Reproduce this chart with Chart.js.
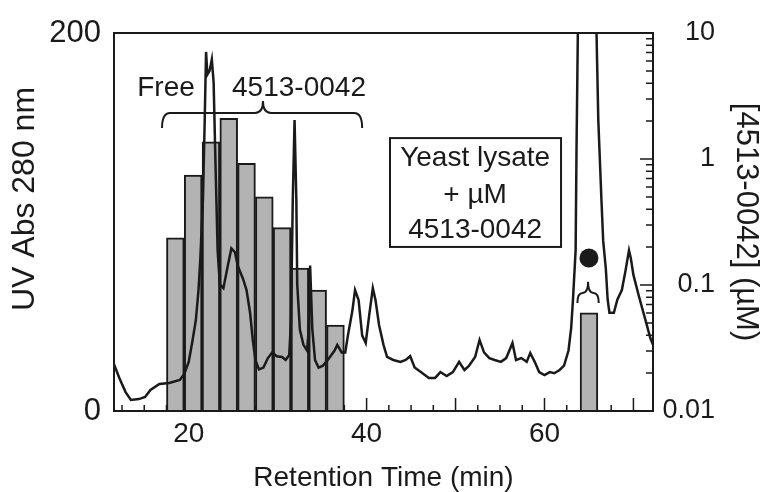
<!DOCTYPE html>
<html>
<head>
<meta charset="utf-8">
<title>Retention time</title>
<script src="https://cdn.jsdelivr.net/npm/chart.js@4.4.0/dist/chart.umd.min.js"></script>
<style>
  body { margin: 0; background: #fff; }
  canvas { display: block; }
</style>
</head>
<body>
<canvas id="chart" width="768" height="492"></canvas>
<script>
// UV trace: retention time (min) and absorbance at 280 nm
const rt = [11.5, 12.2, 12.9, 13.5, 14.4, 15.1, 15.7, 16.7, 17.8, 19.0,
  19.5, 20.0, 20.4, 20.8, 21.1, 21.3, 21.6, 21.8, 21.95, 22.1,
  22.35, 22.6, 22.8, 23.0, 23.25, 23.5, 23.9, 24.4, 24.8, 25.2,
  25.5, 26.1, 26.5, 26.9, 27.2, 27.5, 27.9, 28.4, 28.9, 29.4,
  29.9, 30.5, 30.9, 31.3, 31.5, 31.7, 31.9, 32.1, 32.2, 32.5,
  32.9, 33.3, 33.5, 33.65, 33.9, 34.2, 34.6, 35.1, 35.8, 36.4,
  36.7, 37.2, 37.6, 37.9, 38.4, 38.7, 39.1, 39.5, 39.9, 40.3,
  40.7, 41.0, 41.4, 41.9, 42.3, 43.0, 43.8, 44.4, 44.9, 45.4,
  46.1, 47.0, 47.7, 48.3, 49.0, 49.7, 50.4, 51.0, 51.5, 52.2,
  52.7, 53.2, 53.8, 54.4, 55.1, 55.7, 56.4, 56.8, 57.4, 58.0,
  58.4, 58.9, 59.4, 60.0, 60.6, 61.1, 61.7, 62.2, 62.7, 63.0,
  63.2, 63.5, 63.6, 63.75, 63.9, 65.7, 65.85, 66.05, 66.4, 66.6,
  66.9, 67.1, 67.3, 67.8, 68.2, 68.7, 69.1, 69.5, 69.7, 70.0,
  70.6, 71.3, 71.9, 72.2];
const uv = [25.9, 17.5, 10, 5.8, 6.3, 7.4, 11.1, 14.3, 14.8, 16.4,
  19.6, 26, 36.5, 48, 64, 80, 112, 154, 190, 178,
  180, 186, 174, 133, 85, 67, 65, 77, 86, 84,
  77, 70, 64, 52, 37.6, 27, 22, 23, 28, 31,
  29, 28.6, 27, 29.6, 48, 112, 154, 112, 67, 43,
  35, 32, 43, 77, 43, 27, 23, 24, 28, 32,
  35, 31, 31, 40, 53, 64, 58.7, 40, 36, 51,
  65, 58.7, 45.5, 35, 28.6, 27, 26, 27, 29, 23,
  20.6, 17.5, 17.5, 20.6, 18.5, 20.6, 26, 21.7, 23.8, 28.6,
  37.6, 31, 28, 27, 26, 28, 36, 27, 28, 26,
  30.7, 26, 20.6, 19, 20.6, 20, 21.7, 24, 32, 44,
  58.7, 85, 138, 200, 250, 250, 200, 154, 112, 90,
  75, 59, 52, 52, 59, 64, 74, 85, 81, 72,
  61, 49, 38.6, 35];

// 2 min fractions: centre time and 4513-0042 concentration (uM)
const fracRt = [18.5, 20.5, 22.5, 24.5, 26.5, 28.5, 30.5, 32.5, 34.5, 36.5, 65];
const fracConc = [0.237, 0.746, 1.37, 2.10, 0.925, 0.502, 0.285, 0.136, 0.091, 0.048, 0.060];

// bound compound marker
const dotRt = [65];
const dotConc = [0.164];

// tick labels
const xTicks = [20, 40, 60];
const uvTicks = [0, 200];
const concTicks = [0.01, 0.1, 1, 10];

const FONT = "'Liberation Sans', Arial, Helvetica, sans-serif";
const INK = '#1a1a1a';
Chart.defaults.font.family = FONT;
Chart.defaults.color = INK;

function brace(ctx, x0, x1, xm, yLine, yEnd, yTip) {
  const r = Math.min(8, (x1 - x0) / 4);
  ctx.beginPath();
  ctx.moveTo(x0, yEnd);
  ctx.quadraticCurveTo(x0, yLine, x0 + r, yLine);
  ctx.lineTo(xm - r, yLine);
  ctx.quadraticCurveTo(xm, yLine, xm, yTip);
  ctx.quadraticCurveTo(xm, yLine, xm + r, yLine);
  ctx.lineTo(x1 - r, yLine);
  ctx.quadraticCurveTo(x1, yLine, x1, yEnd);
  ctx.stroke();
}

// inner tick marks, frame, braces and labels
const decor = {
  id: 'decor',
  beforeDatasetsDraw(chart) {
    const { ctx, chartArea: a, scales: { x, y1 } } = chart;
    ctx.save();
    ctx.strokeStyle = INK;
    ctx.lineWidth = 1.5;
    ctx.beginPath();
    for (let i = 5; i * 2.5 < x.max; i++) {
      const v = i * 2.5;
      if (v <= x.min) continue;
      const px = x.getPixelForValue(v);
      const len = v % 10 === 0 ? 13 : 6;
      ctx.moveTo(px, a.bottom);
      ctx.lineTo(px, a.bottom - len);
    }
    [-2, -1, 0].forEach(e => {
      for (let m = 1; m <= 9; m++) {
        const py = y1.getPixelForValue(m * Math.pow(10, e));
        const len = m === 1 ? 13 : 7;
        ctx.moveTo(a.right, py);
        ctx.lineTo(a.right - len, py);
      }
    });
    ctx.stroke();
    ctx.restore();
  },
  afterDatasetsDraw(chart) {
    const { ctx, chartArea: a, scales: { x, y, y1 } } = chart;
    ctx.save();
    ctx.strokeStyle = INK;
    ctx.fillStyle = INK;
    ctx.lineWidth = 2;
    ctx.strokeRect(a.left, a.top, a.right - a.left, a.bottom - a.top);

    // fraction brace
    brace(ctx, x.getPixelForValue(17.0), x.getPixelForValue(39.5), x.getPixelForValue(28.35),
      y.getPixelForValue(157.7), y.getPixelForValue(149.7), y.getPixelForValue(164));
    // brace above the bound fraction
    brace(ctx, x.getPixelForValue(63.7), x.getPixelForValue(66.1), x.getPixelForValue(64.9),
      y1.getPixelForValue(0.0865), y1.getPixelForValue(0.072), y1.getPixelForValue(0.106));

    ctx.font = '28px ' + FONT;
    ctx.textAlign = 'center';
    ctx.textBaseline = 'middle';
    ctx.fillText('Free', x.getPixelForValue(17.45), y.getPixelForValue(170.9));
    ctx.fillText('4513-0042', x.getPixelForValue(32.4), y.getPixelForValue(170.9));

    // legend box
    const bx0 = x.getPixelForValue(42.63), bx1 = x.getPixelForValue(61.86);
    const by0 = y.getPixelForValue(144.4), by1 = y.getPixelForValue(86.8);
    ctx.fillStyle = '#fff';
    ctx.fillRect(bx0, by0, bx1 - bx0, by1 - by0);
    ctx.strokeRect(bx0, by0, bx1 - bx0, by1 - by0);
    ctx.fillStyle = INK;
    const cx = x.getPixelForValue(52.2);
    ctx.fillText('Yeast lysate', cx, y.getPixelForValue(133.5));
    ctx.fillText('+ \u00b5M', cx, y.getPixelForValue(114.3));
    ctx.fillText('4513-0042', cx, y.getPixelForValue(95.5));

    // left axis title sits a little above the plot centre
    ctx.font = '32px ' + FONT;
    ctx.translate(25, 199);
    ctx.rotate(-Math.PI / 2);
    ctx.fillText('UV Abs 280 nm', 0, 0);
    ctx.restore();
  }
};

new Chart(document.getElementById('chart'), {
  type: 'line',
  data: {
    datasets: [
      {
        label: 'UV Abs 280 nm',
        data: rt.map((t, i) => ({ x: t, y: uv[i] })),
        yAxisID: 'y',
        borderColor: INK,
        borderWidth: 2.5,
        pointRadius: 0,
        tension: 0,
        order: 0
      },
      {
        type: 'scatter',
        label: 'bound',
        data: dotRt.map((t, i) => ({ x: t, y: dotConc[i] })),
        yAxisID: 'y1',
        pointRadius: 9.5,
        pointBackgroundColor: INK,
        pointBorderWidth: 0,
        order: 1
      },
      {
        type: 'bar',
        label: '[4513-0042]',
        data: fracRt.map((t, i) => ({ x: t, y: fracConc[i] })),
        yAxisID: 'y1',
        backgroundColor: '#b3b3b3',
        borderColor: INK,
        borderWidth: 2,
        barPercentage: 1,
        categoryPercentage: 1,
        order: 2
      }
    ]
  },
  options: {
    responsive: false,
    animation: false,
    devicePixelRatio: 1,
    layout: { padding: { top: 33, right: 53 } },
    plugins: {
      legend: { display: false },
      tooltip: { enabled: false }
    },
    scales: {
      x: {
        type: 'linear',
        min: 11.6,
        max: 72.2,
        offset: false,
        grid: { display: false, drawTicks: false },
        border: { display: false },
        afterBuildTicks: s => { s.ticks = xTicks.map(v => ({ value: v })); },
        afterFit: s => { s.height = 81; },
        ticks: { font: { size: 28 }, padding: 6, maxRotation: 0 },
        title: {
          display: true,
          text: 'Retention Time (min)',
          font: { size: 28 },
          padding: { top: 0, bottom: -3 }
        }
      },
      y: {
        position: 'left',
        min: 0,
        max: 200,
        grid: { display: false, drawTicks: false },
        border: { display: false },
        afterBuildTicks: s => { s.ticks = uvTicks.map(v => ({ value: v })); },
        afterFit: s => { s.width = 114; },
        ticks: { font: { size: 31 }, padding: 13 }
      },
      y1: {
        type: 'logarithmic',
        position: 'right',
        min: 0.01,
        max: 10,
        grid: { display: false, drawTicks: false },
        border: { display: false },
        afterBuildTicks: s => { s.ticks = concTicks.map(v => ({ value: v })); },
        afterFit: s => { s.width = 62; },
        ticks: { font: { size: 27 }, padding: 13, crossAlign: 'far', callback: v => String(v) },
        title: {
          display: true,
          text: '[4513-0042] (\u00b5M)',
          font: { size: 31 },
          padding: { top: -49.6, bottom: 0 }
        }
      }
    }
  },
  plugins: [decor]
});
</script>
</body>
</html>
